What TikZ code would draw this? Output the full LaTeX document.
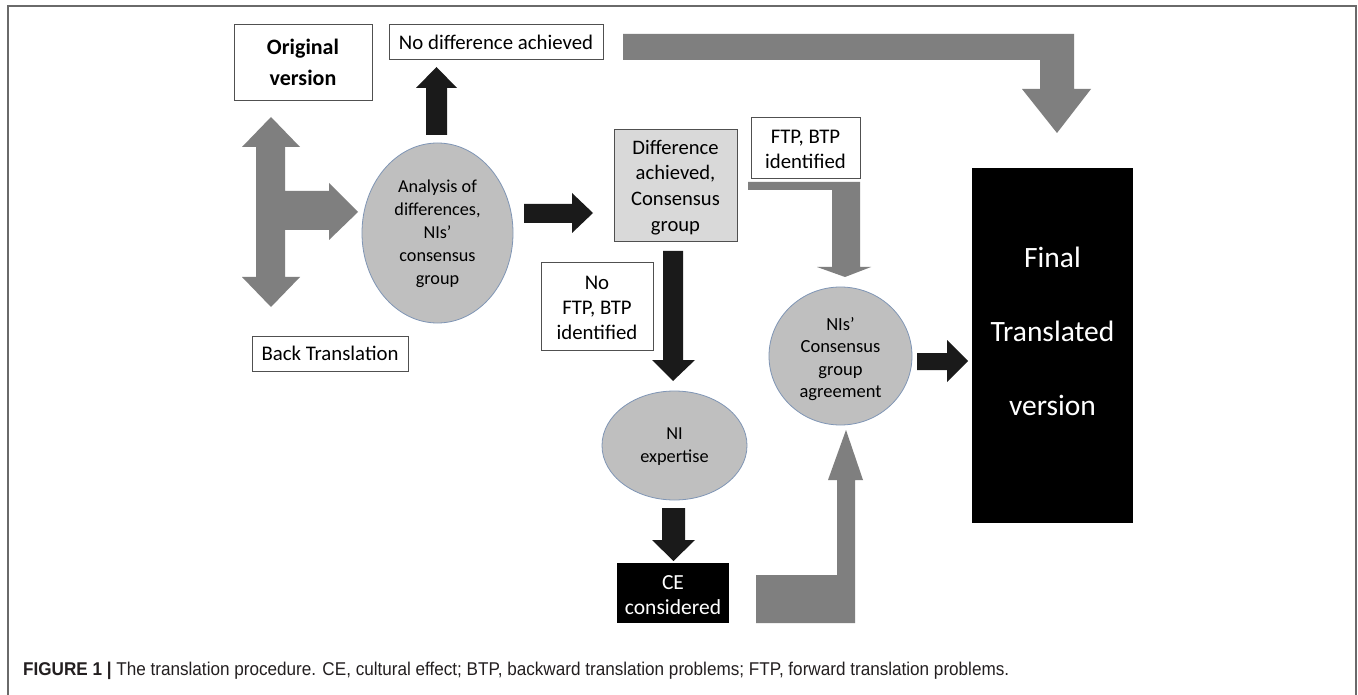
\documentclass[tikz,border=0pt]{standalone}
\usepackage{fontspec}
\usepackage{graphicx}
\setmainfont{Carlito}
\newfontfamily\capfont{Liberation Sans}
\usetikzlibrary{shapes.geometric}
\definecolor{arrowgray}{HTML}{7F7F7F}
\definecolor{ellfill}{HTML}{BFBFBF}
\definecolor{ellline}{HTML}{7F95B5}
\definecolor{boxline}{HTML}{505050}
\definecolor{diffill}{HTML}{D9D9D9}
\definecolor{framecol}{HTML}{6A6A6A}
\definecolor{captext}{HTML}{231F20}
\definecolor{darkarrow}{HTML}{1A1A1A}
\tikzset{
  whitebox/.style={draw=boxline, line width=1pt, fill=white, inner sep=0pt, align=center},
  graybox/.style={draw=boxline, line width=1pt, fill=diffill, inner sep=0pt, align=center},
  blackbox/.style={draw=none, fill=black, inner sep=0pt, align=center, text=white},
  ell/.style={ellipse, draw=ellline, line width=0.8pt, fill=ellfill, inner sep=0pt, align=center},
  txt/.style={inner sep=0pt, align=center},
  grayarrow/.style={fill=arrowgray},
  blackarrow/.style={fill=darkarrow},
  boxfont/.style={font=\fontsize{20.8}{25}\selectfont},
}
\begin{document}
\begin{tikzpicture}[x=1pt, y=-1pt]
\useasboundingbox (0,0) rectangle (1358,695);
\fill[white] (0,0) rectangle (1358,695);
% frame
\draw[framecol, line width=1.5pt] (8,695) -- (8,6) -- (1356,6) -- (1356,695);

% boxes
\node[whitebox, minimum width=138pt, minimum height=76pt] (orig) at (303,63) {};
\node[txt, font=\bfseries\fontsize{22}{31}\selectfont] (origt) at (303,62.5) {Original\\version};
\node[whitebox, boxfont, minimum width=214pt, minimum height=35pt] (nodiff) at (496,42.5) {No difference achieved};
\node[graybox, minimum width=123pt, minimum height=112pt] (diff) at (675.5,186) {};
\node[txt, font=\fontsize{20.6}{25.8}\selectfont] (difft) at (675.5,187.5) {Difference\\achieved,\\Consensus\\group};
\node[whitebox, minimum width=109pt, minimum height=61pt] (ftp) at (805.5,148.5) {};
\node[txt, boxfont] (ftpt) at (805.5,149.5) {FTP, BTP\\identified};
\node[whitebox, minimum width=112pt, minimum height=87pt] (noftp) at (597,306.5) {};
\node[txt, boxfont] (noftpt) at (597,308) {No\\FTP, BTP\\identified};
\node[whitebox, boxfont, minimum width=156pt, minimum height=35pt] (back) at (330,353.5) {Back Translation};
\node[blackbox, minimum width=112pt, minimum height=60pt] (ce) at (673,593) {};
\node[txt, font=\fontsize{21.5}{25}\selectfont, text=white] (cet) at (673,595.5) {CE\\considered};
\node[blackbox, minimum width=161pt, minimum height=355pt] (final) at (1052.5,345.5) {};
\node[txt, text=white, font=\fontsize{29.5}{74}\selectfont] (finalt) at (1052.5,331) {Final\\Translated\\version};

% ellipses
\node[ell, minimum width=151pt, minimum height=180pt] (anal) at (437.5,233) {};
\node[txt, font=\fontsize{18.2}{23}\selectfont] (analt) at (437.5,234) {Analysis of\\differences,\\NIs’\\consensus\\group};
\node[ell, minimum width=145pt, minimum height=109pt] (niexp) at (674.5,445.5) {};
\node[txt, font=\fontsize{18.3}{23}\selectfont] (niexpt) at (674.5,446.5) {NI\\expertise};
\node[ell, minimum width=143pt, minimum height=138pt] (nis) at (840.5,356) {};
\node[txt, font=\fontsize{18.5}{22.3}\selectfont] (nist) at (840.5,359) {NIs’\\Consensus\\group\\agreement};

% gray block arrows
\fill[grayarrow] (271,117) -- (300,147) -- (285,147) -- (285,191) -- (329,191) -- (329,183) -- (358,212)
  -- (329,240) -- (329,230) -- (285,230) -- (285,277) -- (300,277) -- (271,307) -- (242,277)
  -- (256,277) -- (256,147) -- (242,147) -- cycle;
\fill[grayarrow] (623,34) -- (1074,34) -- (1074,89) -- (1091,89) -- (1057,133) -- (1022,89)
  -- (1040,89) -- (1040,60) -- (623,60) -- cycle;
\fill[grayarrow] (748,182) -- (860,182) -- (860,267) -- (871,267) -- (845,277) -- (817,267)
  -- (832,267) -- (832,190) -- (748,190) -- cycle;
\fill[grayarrow] (756,575) -- (837,575) -- (837,480) -- (828,480) -- (846,430) -- (863,480)
  -- (855,480) -- (855,623) -- (756,623) -- cycle;

% black block arrows
\fill[blackarrow] (426,135) -- (426,88) -- (416,88) -- (436.5,67) -- (457,88) -- (447,88) -- (447,135) -- cycle;
\fill[blackarrow] (524,204) -- (572,204) -- (572,193) -- (593,213) -- (572,233) -- (572,223) -- (524,223) -- cycle;
\fill[blackarrow] (663,251) -- (683,251) -- (683,360) -- (695,360) -- (673,381) -- (652,360) -- (663,360) -- cycle;
\fill[blackarrow] (662,508) -- (685,508) -- (685,540) -- (695,540) -- (673.5,561) -- (652,540) -- (662,540) -- cycle;
\fill[blackarrow] (917,353) -- (947,353) -- (947,340) -- (968,361) -- (947,382) -- (947,370) -- (917,370) -- cycle;

% caption
\node[anchor=base west, inner sep=0pt, text=captext] (caption) at (23,675)
  {\scalebox{0.925}[1]{\capfont\fontsize{18.5}{18.5}\selectfont\textbf{FIGURE 1 |} The translation procedure. CE, cultural effect; BTP, backward translation problems; FTP, forward translation problems.}};
\end{tikzpicture}
\end{document}
